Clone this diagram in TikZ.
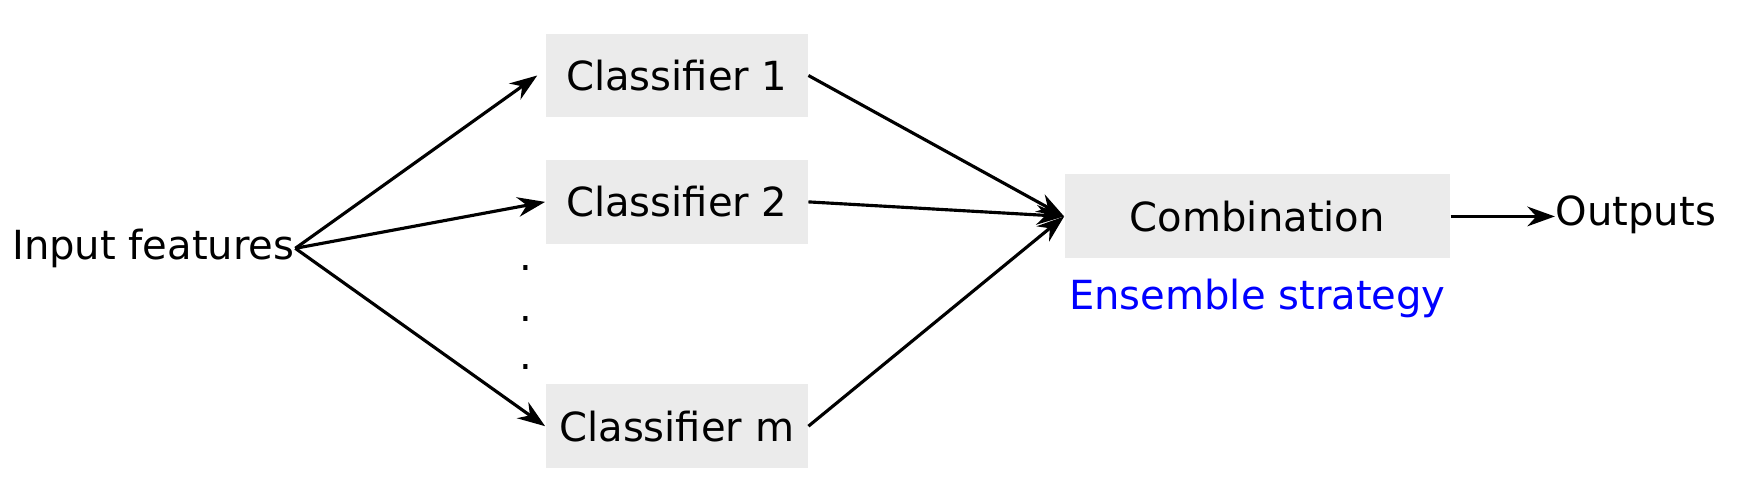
\documentclass[tikz,border=0pt]{standalone}
\usepackage{fontspec}
\setmainfont{DejaVu Sans}
\usetikzlibrary{positioning, arrows.meta}

\tikzset{
  clsbox/.style={fill=black!8, minimum width=2.34cm, minimum height=0.75cm, inner sep=0pt},
  flow/.style={line width=0.8pt, -{Stealth[length=7pt,width=5pt]}}
}

\begin{document}
\begin{tikzpicture}[font=\fontsize{10.2}{12}\selectfont]
        \useasboundingbox (0,0) rectangle (15.68,4.31);
        % classifiers
        \node[clsbox] (c1) at (6.05,3.635) {Classifier 1};
        \node[clsbox] (c2) at (6.05,2.505) {Classifier 2};
        \node[clsbox] (cm) at (6.05,0.5) {Classifier m};
        \node[clsbox, minimum width=3.44cm] (comb) at (11.24,2.375) {Combination};
        % texts
        \node[anchor=east, inner sep=0pt] (in) at (2.64,2.09) {Input features};
        \node[anchor=west, inner sep=0pt] (out) at (13.9,2.39) {Outputs};
        \node[text=blue, below=0.05cm of comb] (ens) {Ensemble strategy};
        % dots
        \foreach \y/\name in {1.91/d1, 1.46/d2, 1.03/d3}
        \node (\name) at (4.7,\y) {.};
        % arrows
        \draw[flow] (in.east) -- ([xshift=-2pt]c1.west);
        \draw[flow] (in.east) -- (c2.west);
        \draw[flow] (in.east) -- (cm.west);
        \draw[flow] (c1.east) -- (comb.west);
        \draw[flow] (c2.east) -- (comb.west);
        \draw[flow] (cm.east) -- (comb.west);
        \draw[flow] (comb.east) -- (comb.east -| out.west);
\end{tikzpicture}
\end{document}
